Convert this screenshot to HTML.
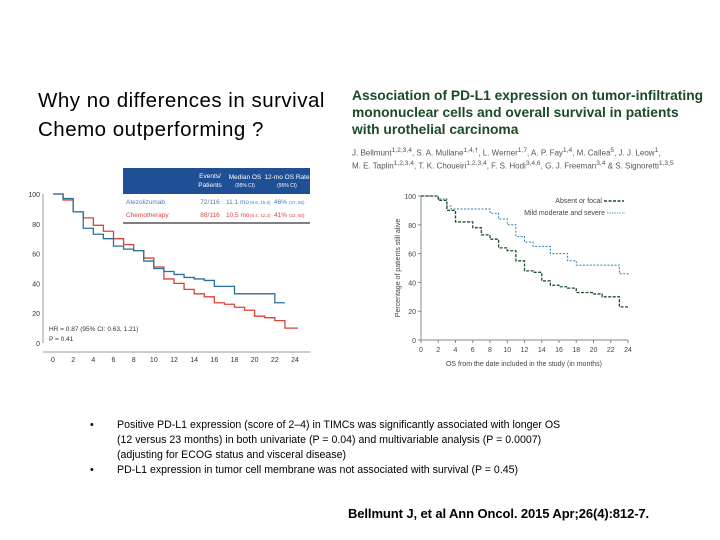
<!DOCTYPE html>
<html><head><meta charset="utf-8">
<style>
body{margin:0;background:#fff;}
#slide{position:relative;width:720px;height:540px;overflow:hidden;font-family:"Liberation Sans",sans-serif;}
.t{position:absolute;white-space:nowrap;}
</style></head>
<body>
<div id="slide">
<div class="t" style="left:38px;top:86px;font-size:20.5px;letter-spacing:0.5px;line-height:29px;color:#000;">Why no differences in survival<br>Chemo outperforming ?</div>
<div class="t" style="left:352px;top:87px;font-size:13.8px;line-height:17px;font-weight:bold;color:#1a4a28;">Association of PD-L1 expression on tumor-infiltrating<br>mononuclear cells and overall survival in patients<br>with urothelial carcinoma</div>
<div class="t" style="left:352px;top:146px;font-size:8px;line-height:10.5px;color:#555;">J. Bellmunt<sup>1,2,3,4</sup>, S. A. Mullane<sup>1,4,†</sup>, L. Werner<sup>1,7</sup>, A. P. Fay<sup>1,4</sup>, M. Callea<sup>5</sup>, J. J. Leow<sup>1</sup>,<br>M. E. Taplin<sup>1,2,3,4</sup>, T. K. Choueiri<sup>1,2,3,4</sup>, F. S. Hodi<sup>3,4,6</sup>, G. J. Freeman<sup>3,4</sup> &amp; S. Signoretti<sup>1,3,5</sup></div>

<svg id="left" width="720" height="540" style="position:absolute;left:0;top:0;" font-family="Liberation Sans, sans-serif"></svg>

<div class="t" style="left:117px;top:418px;font-size:10.6px;line-height:15px;color:#000;">
<div><span style="position:absolute;left:-27px;">•</span>Positive PD-L1 expression (score of 2–4) in TIMCs was significantly associated with longer OS<br>(12 versus 23 months) in both univariate (P = 0.04) and multivariable analysis (P = 0.0007)<br>(adjusting for ECOG status and visceral disease)</div>
<div><span style="position:absolute;left:-27px;">•</span>PD-L1 expression in tumor cell membrane was not associated with survival (P = 0.45)</div>
</div>
<div class="t" style="left:348px;top:506px;font-size:13px;font-weight:bold;letter-spacing:-0.1px;color:#000;">Bellmunt J, et al Ann Oncol. 2015 Apr;26(4):812-7.</div>
</div>
<script>
// Left chart data
const leftMonths=[0,1,2,3,4,5,6,7,8,9,10,11,12,13,14,15,16,17,18,20,22,23];
const atezoValues=[100,97,88,77,73,70,65,63,62,55,50,48,46,44,43,42,38,38,33,33,27,27];
const chemoMonths=[0,1,2,3,4,5,6,7,8,9,10,11,12,13,14,15,16,17,18,19,20,21,22,23,24.3];
const chemoValues=[100,96,88,84,79,75,70,66,62,57,51,43,40,36,33,31,27,26,24,22,18,17,15,10,10];
const leftYTicks=[0,20,40,60,80,100];
const leftXTicks=[0,2,4,6,8,10,12,14,16,18,20,22,24];
// Right chart data
const absentMonths=[0,2,3,4,5,6,7,8,9,10,11,12,13,14,15,16,17,18,20,21,22,23,24];
const absentValues=[100,97,90,82,82,78,73,70,64,62,55,48,47,41,38,37,36,33,32,30,30,23,23];
const mildMonths=[0,2,3,3.5,8,9,10,11,12,13,15,17,18,23,24];
const mildValues=[100,98,93,91,88,84,80,72,68,65,60,55,52,46,45];
const rightYTicks=[0,20,40,60,80,100];
const rightXTicks=[0,2,4,6,8,10,12,14,16,18,20,22,24];

const NS='http://www.w3.org/2000/svg';
const svg=document.getElementById('left');
function mk(tag,attrs,parent){const e=document.createElementNS(NS,tag);for(const k in attrs)e.setAttribute(k,attrs[k]);(parent||svg).appendChild(e);return e;}
function stepPath(xs,ys,sx,sy){let d='M'+sx(xs[0])+','+sy(ys[0]);for(let i=1;i<xs.length;i++){d+=' H'+sx(xs[i])+' V'+sy(ys[i]);}return d;}

// LEFT
const lx=v=>53+v*(242/24), ly=v=>343-v*(149/100);
mk('line',{x1:43,y1:ly(100),x2:43,y2:ly(0),stroke:'#999','stroke-width':1});
mk('line',{x1:43,y1:352,x2:310,y2:352,stroke:'#999','stroke-width':1});
leftYTicks.forEach(v=>{const t=mk('text',{x:40,y:ly(v)+3,'font-size':7,'text-anchor':'end',fill:'#333'});t.textContent=v;
});
leftXTicks.forEach(v=>{const t=mk('text',{x:lx(v),y:362,'font-size':7,'text-anchor':'middle',fill:'#333'});t.textContent=v;
});
let p=mk('path',{d:stepPath(chemoMonths,chemoValues,lx,ly),fill:'none',stroke:'#d9443a','stroke-width':1.3});

p=mk('path',{d:stepPath(leftMonths,atezoValues,lx,ly),fill:'none',stroke:'#2e6e9e','stroke-width':1.3});

let t=mk('text',{x:49,y:331,'font-size':6.5,fill:'#333'});t.textContent='HR = 0.87 (95% CI: 0.63, 1.21)';

t=mk('text',{x:49,y:341,'font-size':6.5,fill:'#333'});t.textContent='P = 0.41';

// table
const g=mk('g',{});
mk('rect',{x:123,y:168,width:187,height:26,fill:'#1f4f95'},g);
mk('line',{x1:123,y1:223,x2:310,y2:223,stroke:'#000','stroke-width':1},g);
[['Events/',210,178],['Patients',210,187],['Median OS',245,179],['(95% CI)',245,187],['12-mo OS Rate',287,179],['(95% CI)',287,187]].forEach(a=>{const e=mk('text',{x:a[1],y:a[2],'font-size':a[0].startsWith('(')?5:6.5,'text-anchor':'middle',fill:'#fff'},g);e.textContent=a[0];});
[['Atezolizumab','72/116','11.1 mo','(8.6, 15.5)','46%','(37, 56)',204,'#4a7fb5'],['Chemotherapy','88/116','10.5 mo','(8.4, 12.2)','41%','(32, 50)',217,'#d9443a']].forEach(r=>{
 const c=r[7];
 let e=mk('text',{x:126,y:r[6],'font-size':6.5,fill:c},g);e.textContent=r[0];
 e=mk('text',{x:210,y:r[6],'font-size':6.5,'text-anchor':'middle',fill:c},g);e.textContent=r[1];
 e=mk('text',{x:226,y:r[6],'font-size':6.5,fill:c},g);e.textContent=r[2];
 e=mk('text',{x:250,y:r[6],'font-size':4.5,fill:c},g);e.textContent=r[3];
 e=mk('text',{x:274,y:r[6],'font-size':6.5,fill:c},g);e.textContent=r[4];
 e=mk('text',{x:289,y:r[6],'font-size':4.5,fill:c},g);e.textContent=r[5];
});

// RIGHT
const rx=v=>421+v*(207/24), ry=v=>340-v*(144/100);
mk('line',{x1:421,y1:ry(100),x2:421,y2:ry(0),stroke:'#888','stroke-width':1});
mk('line',{x1:421,y1:ry(0),x2:628,y2:ry(0),stroke:'#888','stroke-width':1});
rightYTicks.forEach(v=>{mk('line',{x1:418,y1:ry(v),x2:421,y2:ry(v),stroke:'#888'});const e=mk('text',{x:416,y:ry(v)+3,'font-size':7,'text-anchor':'end',fill:'#444'});e.textContent=v;
});
rightXTicks.forEach(v=>{mk('line',{x1:rx(v),y1:340,x2:rx(v),y2:343,stroke:'#888'});const e=mk('text',{x:rx(v),y:352,'font-size':7,'text-anchor':'middle',fill:'#444'});e.textContent=v;
});
t=mk('text',{x:524,y:366,'font-size':7,'text-anchor':'middle',fill:'#444'});t.textContent='OS from the date included in the study (in months)';

t=mk('text',{x:0,y:0,'font-size':7,'text-anchor':'middle',fill:'#444',transform:'translate(400,268) rotate(-90)'});t.textContent='Percentage of patients still alive';

p=mk('path',{d:stepPath(mildMonths,mildValues,rx,ry),fill:'none',stroke:'#2a7fb0','stroke-width':1,'stroke-dasharray':'2,1.5'});

p=mk('path',{d:stepPath(absentMonths,absentValues,rx,ry),fill:'none',stroke:'#1e4d2b','stroke-width':1.3,'stroke-dasharray':'3,1.5'});

t=mk('text',{x:602,y:203,'font-size':7,'text-anchor':'end',fill:'#444'});t.textContent='Absent or focal';

mk('line',{x1:604,y1:201,x2:624,y2:201,stroke:'#1e4d2b','stroke-width':1.5,'stroke-dasharray':'3,1.5'});
t=mk('text',{x:605,y:215,'font-size':7,'text-anchor':'end',fill:'#444'});t.textContent='Mild moderate and severe';

mk('line',{x1:607,y1:213,x2:625,y2:213,stroke:'#2a7fb0','stroke-width':0.8,'stroke-dasharray':'1.5,1'});
</script>
</body></html>
